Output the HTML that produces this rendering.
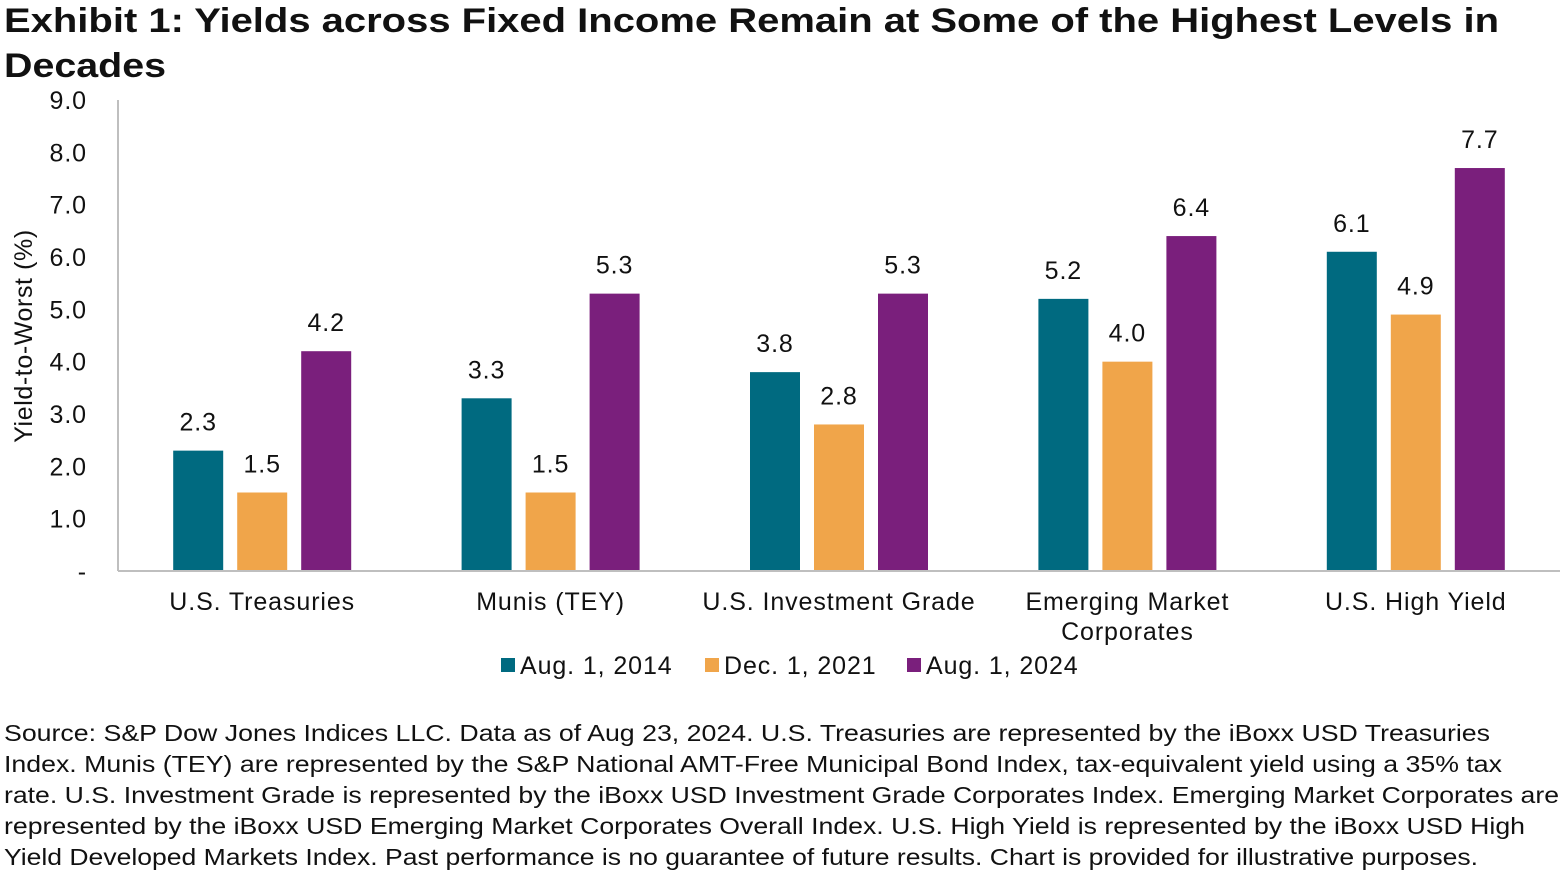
<!DOCTYPE html>
<html><head><meta charset="utf-8"><style>
body{margin:0;background:#fff;width:1564px;height:870px;overflow:hidden;font-family:"Liberation Sans",Arial,sans-serif;}
svg{position:absolute;left:0;top:0;}
text{font-family:"Liberation Sans",Arial,sans-serif;fill:#111;}
</style></head><body>
<svg width="1564" height="870">
<g font-weight="bold" font-size="34">
<text x="4" y="32" textLength="1495" lengthAdjust="spacingAndGlyphs">Exhibit 1: Yields across Fixed Income Remain at Some of the Highest Levels in</text>
<text x="4" y="77" textLength="162" lengthAdjust="spacingAndGlyphs">Decades</text>
</g>
<g id="chart"></g>
<g font-size="23">
<text x="4" y="741" textLength="1486" lengthAdjust="spacingAndGlyphs">Source: S&amp;P Dow Jones Indices LLC. Data as of Aug 23, 2024. U.S. Treasuries are represented by the iBoxx USD Treasuries</text>
<text x="4" y="772" textLength="1498" lengthAdjust="spacingAndGlyphs">Index. Munis (TEY) are represented by the S&amp;P National AMT-Free Municipal Bond Index, tax-equivalent yield using a 35% tax</text>
<text x="4" y="803" textLength="1555" lengthAdjust="spacingAndGlyphs">rate. U.S. Investment Grade is represented by the iBoxx USD Investment Grade Corporates Index. Emerging Market Corporates are</text>
<text x="4" y="834" textLength="1521" lengthAdjust="spacingAndGlyphs">represented by the iBoxx USD Emerging Market Corporates Overall Index. U.S. High Yield is represented by the iBoxx USD High</text>
<text x="4" y="865" textLength="1474" lengthAdjust="spacingAndGlyphs">Yield Developed Markets Index. Past performance is no guarantee of future results. Chart is provided for illustrative purposes.</text>
</g>
</svg>
<script>
const categories=[["U.S. Treasuries"],["Munis (TEY)"],["U.S. Investment Grade"],["Emerging Market","Corporates"],["U.S. High Yield"]];
const seriesNames=["Aug. 1, 2014","Dec. 1, 2021","Aug. 1, 2024"];
const s2014=[2.3,3.3,3.8,5.2,6.1];
const s2021=[1.5,1.5,2.8,4.0,4.9];
const s2024=[4.2,5.3,5.3,6.4,7.7];
const yTicks=[0,1,2,3,4,5,6,7,8,9];
const series=[s2014,s2021,s2024];
const colors=["#006a80","#f0a54a","#7a1f7c"];
const NS="http://www.w3.org/2000/svg";
const svg=document.getElementById('chart');
const x0=118,x1=1560,y0=571,yTop=100,ymax=9;
const y=v=>y0-(v/ymax)*(y0-yTop);
const bw=(x1-x0)/categories.length;
const cx=i=>x0+bw*(i+0.5);
const FS=25,LS=0.9;
function mk(t,a){const e=document.createElementNS(NS,t);for(const k in a)e.setAttribute(k,a[k]);svg.appendChild(e);return e;}
yTicks.forEach(t=>{const e=mk('text',{x:87,y:y(t)+9,'text-anchor':'end','font-size':FS,'letter-spacing':LS});e.textContent=t===0?'-':t.toFixed(1);

});
const yt=mk('text',{transform:'translate(32,336) rotate(-90)','text-anchor':'middle','font-size':FS,'letter-spacing':0.6});yt.textContent='Yield-to-Worst (%)';


const ax=mk('line',{x1:x0,y1:yTop,x2:x0,y2:y0,stroke:'#bfbfbf','stroke-width':2});


categories.forEach((c,i)=>{
  series.forEach((s,j)=>{
    const bx=cx(i)-25+(j-1)*64;
    const r=mk('rect',{x:bx,y:y(s[i]),width:50,height:y0-y(s[i]),fill:colors[j]});
    
    
    const l=mk('text',{x:bx+25,y:y(s[i])-20,'text-anchor':'middle','font-size':FS,'letter-spacing':LS});l.textContent=s[i].toFixed(1);
    
    
  });
  c.forEach((ln,k)=>{const t=mk('text',{x:cx(i),y:610+k*30,'text-anchor':'middle','font-size':FS,'letter-spacing':LS});t.textContent=ln;
  
  });
});
const bl=mk('line',{x1:x0,y1:y0,x2:x1,y2:y0,stroke:'#bfbfbf','stroke-width':2});


const lx=[501,705,907];
seriesNames.forEach((n,j)=>{
  const r=mk('rect',{x:lx[j],y:658,width:14,height:14,fill:colors[j]});
  
  
  const t=mk('text',{x:lx[j]+19,y:674,'font-size':FS,'letter-spacing':LS});t.textContent=n;
  
  
});
</script>
</body></html>
